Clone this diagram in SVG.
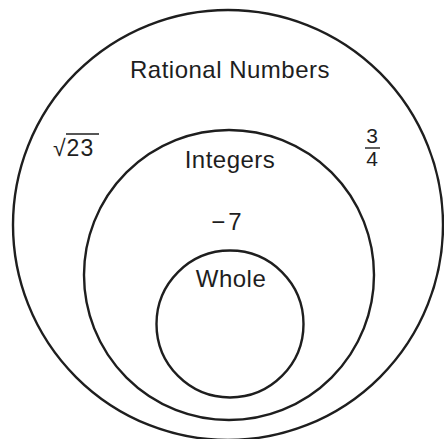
<svg xmlns="http://www.w3.org/2000/svg" width="444" height="439" viewBox="0 0 444 439">
<style>
.c{fill:none;stroke:#1e1e1e;stroke-width:2.4}
.t{font-family:"Liberation Sans",Arial,sans-serif;fill:#1e1e1e;text-anchor:middle}
</style>
<rect width="444" height="439" fill="#fff"/>
<g id="rational">
<circle class="c" cx="228" cy="225" r="215"/>
<text class="t" x="230" y="78" font-size="24" letter-spacing="0.5">Rational Numbers</text>
</g>
<g id="integers">
<circle class="c" cx="229" cy="275" r="145"/>
<text class="t" x="230" y="168" font-size="24" letter-spacing="0.5">Integers</text>
</g>
<g id="whole">
<circle class="c" cx="230" cy="324" r="73.5"/>
<text class="t" x="231" y="287" font-size="24" letter-spacing="0.5">Whole</text>
</g>
<g id="sqrt23">
<text x="53" y="156" font-size="23" font-family="'Liberation Sans',Arial,sans-serif" fill="#1e1e1e" letter-spacing="1">√23</text>
<line x1="66" y1="134" x2="99" y2="134" stroke="#1e1e1e" stroke-width="1.4"/>
</g>
<g id="frac">
<text class="t" x="372" y="143" font-size="21">3</text>
<line x1="365" y1="148" x2="380" y2="148" stroke="#1e1e1e" stroke-width="1.4"/>
<text class="t" x="372" y="166" font-size="21">4</text>
</g>
<g id="neg7">
<text class="t" x="228" y="230" font-size="24" letter-spacing="3">−7</text>
</g>
</svg>
